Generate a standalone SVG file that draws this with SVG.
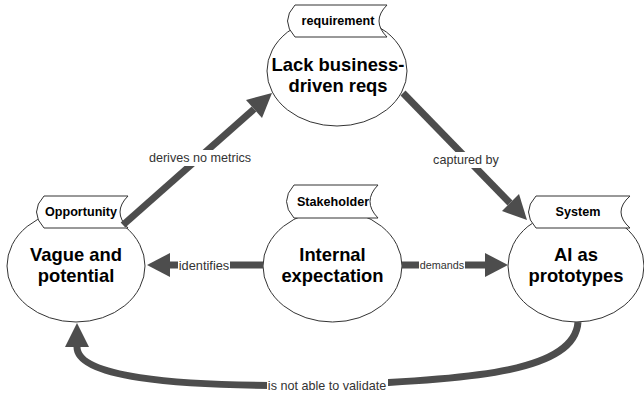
<svg xmlns="http://www.w3.org/2000/svg" width="644" height="398" viewBox="0 0 644 398">
<style>
.ell{fill:#fff;stroke:#333;stroke-width:1}
.tag{fill:#fff;stroke:#333;stroke-width:1}
.tt{font-family:"Liberation Sans",Arial,Helvetica,sans-serif;font-size:12.6px;font-weight:bold;fill:#000;text-anchor:middle;dominant-baseline:central}
.nt{font-family:"Liberation Sans",Arial,Helvetica,sans-serif;font-size:18.4px;font-weight:bold;fill:#000;text-anchor:middle}
.ln{fill:none;stroke:#4d4d4d;stroke-width:7}
.hd{fill:#4d4d4d;stroke:none}
.el{font-family:"Liberation Sans",Arial,Helvetica,sans-serif;font-size:12.6px;fill:#333;text-anchor:middle;dominant-baseline:central}
.bg{fill:#fff}
</style>
<rect width="644" height="398" fill="#fff"/>
<g id="node-requirement">
<ellipse class="ell" cx="337" cy="71" rx="70" ry="55"/>
<path class="tag" d="M295,5 H387 Q371,21 387,37 H295 Q280,21 295,5 Z"/>
<text class="tt" x="338" y="21">requirement</text>
<text class="nt" x="338" y="71">Lack business-</text>
<text class="nt" x="338" y="92">driven reqs</text>
</g>
<g id="node-opportunity">
<ellipse class="ell" cx="76" cy="266" rx="69" ry="56"/>
<path class="tag" d="M44,196 H128 Q112,212 128,228 H44 Q29,212 44,196 Z"/>
<text class="tt" x="81" y="212">Opportunity</text>
<text class="nt" x="76" y="261">Vague and</text>
<text class="nt" x="76" y="282">potential</text>
</g>
<g id="node-stakeholder">
<ellipse class="ell" cx="332.5" cy="266" rx="69.5" ry="56"/>
<path class="tag" d="M294,185 H378 Q362,201.5 378,218 H294 Q279,201.5 294,185 Z"/>
<text class="tt" x="333" y="201.5">Stakeholder</text>
<text class="nt" x="332.5" y="261">Internal</text>
<text class="nt" x="332.5" y="282">expectation</text>
</g>
<g id="node-system">
<ellipse class="ell" cx="576" cy="266" rx="68" ry="56"/>
<path class="tag" d="M536,196 H630 Q612,212 630,228 H536 Q521,212 536,196 Z"/>
<text class="tt" x="578" y="212">System</text>
<text class="nt" x="576" y="261">AI as</text>
<text class="nt" x="576" y="282">prototypes</text>
</g>
<g id="connectors">
<path class="ln" d="M123,225 L254,109"/>
<polygon class="hd" points="272,93 262,118 246,100"/>
<rect class="bg" x="148" y="150" width="104" height="16"/>
<text class="el" x="200" y="158">derives no metrics</text>

<path class="ln" d="M403,93 L510,203"/>
<polygon class="hd" points="527,220 519,194 502,211"/>
<rect class="bg" x="432" y="152" width="68" height="16"/>
<text class="el" x="466" y="160">captured by</text>

<path class="ln" d="M263,265 H170"/>
<polygon class="hd" points="147,265 170,253 170,277"/>
<rect class="bg" x="178" y="258" width="52" height="15"/>
<text class="el" x="204" y="265" style="font-size:12.8px">identifies</text>

<path class="ln" d="M402,265 H485"/>
<polygon class="hd" points="508,265 485,253 485,277"/>
<rect class="bg" x="419" y="259" width="46" height="13"/>
<text class="el" x="442" y="265" style="font-size:10.8px">demands</text>

<path class="ln" d="M578,322 C575,370 480,380 330,385 C160,388 77,375 77,347"/>
<polygon class="hd" points="77,323 65,347 89,347"/>
<rect class="bg" x="267" y="378" width="121" height="16"/>
<text class="el" x="327" y="386">is not able to validate</text>
</g>
</svg>
